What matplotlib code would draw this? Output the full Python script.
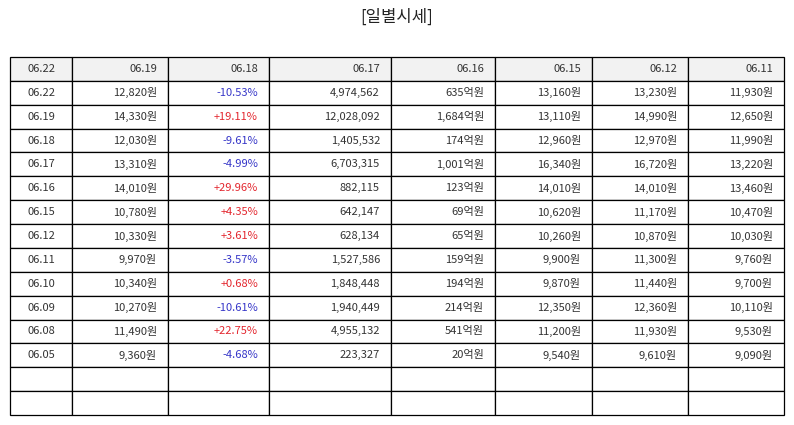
import matplotlib
matplotlib.use("Agg")
import matplotlib.pyplot as plt

plt.rcParams['font.family'] = ['Noto Sans CJK KR', 'DejaVu Sans']

title = '[일별시세]'
headers = ['06.22', '06.19', '06.18', '06.17', '06.16', '06.15', '06.12', '06.11']
dates = ['06.22', '06.19', '06.18', '06.17', '06.16', '06.15', '06.12',
         '06.11', '06.10', '06.09', '06.08', '06.05']
close = ['12,820원', '14,330원', '12,030원', '13,310원', '14,010원', '10,780원',
         '10,330원', '9,970원', '10,340원', '10,270원', '11,490원', '9,360원']
change = ['-10.53%', '+19.11%', '-9.61%', '-4.99%', '+29.96%', '+4.35%',
          '+3.61%', '-3.57%', '+0.68%', '-10.61%', '+22.75%', '-4.68%']
volume = ['4,974,562', '12,028,092', '1,405,532', '6,703,315', '882,115', '642,147',
          '628,134', '1,527,586', '1,848,448', '1,940,449', '4,955,132', '223,327']
amount = ['635억원', '1,684억원', '174억원', '1,001억원', '123억원', '69억원',
          '65억원', '159억원', '194억원', '214억원', '541억원', '20억원']
open_ = ['13,160원', '13,110원', '12,960원', '16,340원', '14,010원', '10,620원',
         '10,260원', '9,900원', '9,870원', '12,350원', '11,200원', '9,540원']
high = ['13,230원', '14,990원', '12,970원', '16,720원', '14,010원', '11,170원',
        '10,870원', '11,300원', '11,440원', '12,360원', '11,930원', '9,610원']
low = ['11,930원', '12,650원', '11,990원', '13,220원', '13,460원', '10,470원',
       '10,030원', '9,760원', '9,700원', '10,110원', '9,530원', '9,090원']
empty_rows = 2

col_px = [62, 96, 101, 122, 104, 97, 96, 96]
W, H = 794, 425

rows = [list(r) for r in zip(dates, close, change, volume, amount, open_, high, low)]
rows += [[''] * 8 for _ in range(empty_rows)]

fig = plt.figure(figsize=(W / 100, H / 100), dpi=100)
ax = fig.add_axes([0, 0, 1, 1])
ax.axis('off')

fig.text(0.5, 1 - 17 / H, title, ha='center', va='center', fontsize=12, color='#222222')

x0, x1 = 10, 784
y_top, y_bot = 57, 415
tbl = ax.table(cellText=rows, colLabels=headers,
               colWidths=[w / sum(col_px) for w in col_px],
               bbox=[x0 / W, 1 - y_bot / H, (x1 - x0) / W, (y_bot - y_top) / H])
tbl.auto_set_font_size(False)

for (r, c), cell in tbl.get_celld().items():
    cell.set_edgecolor('black')
    cell.set_linewidth(0.9)
    cell.PAD = 11 / col_px[c]
    txt = cell.get_text()
    txt.set_fontsize(8)
    txt.set_color('#333333')
    if c == 0:
        cell.set_text_props(ha='center')
        cell._loc = 'center'
    else:
        cell._loc = 'right'
        txt.set_ha('right')
    if r == 0:
        cell.set_facecolor('#f2f2f2')
    else:
        cell.set_facecolor('white')
        if c == 2 and txt.get_text():
            txt.set_color('#e3262e' if txt.get_text().startswith('+') else '#3535c8')

fig.savefig('out.png', dpi=100)
